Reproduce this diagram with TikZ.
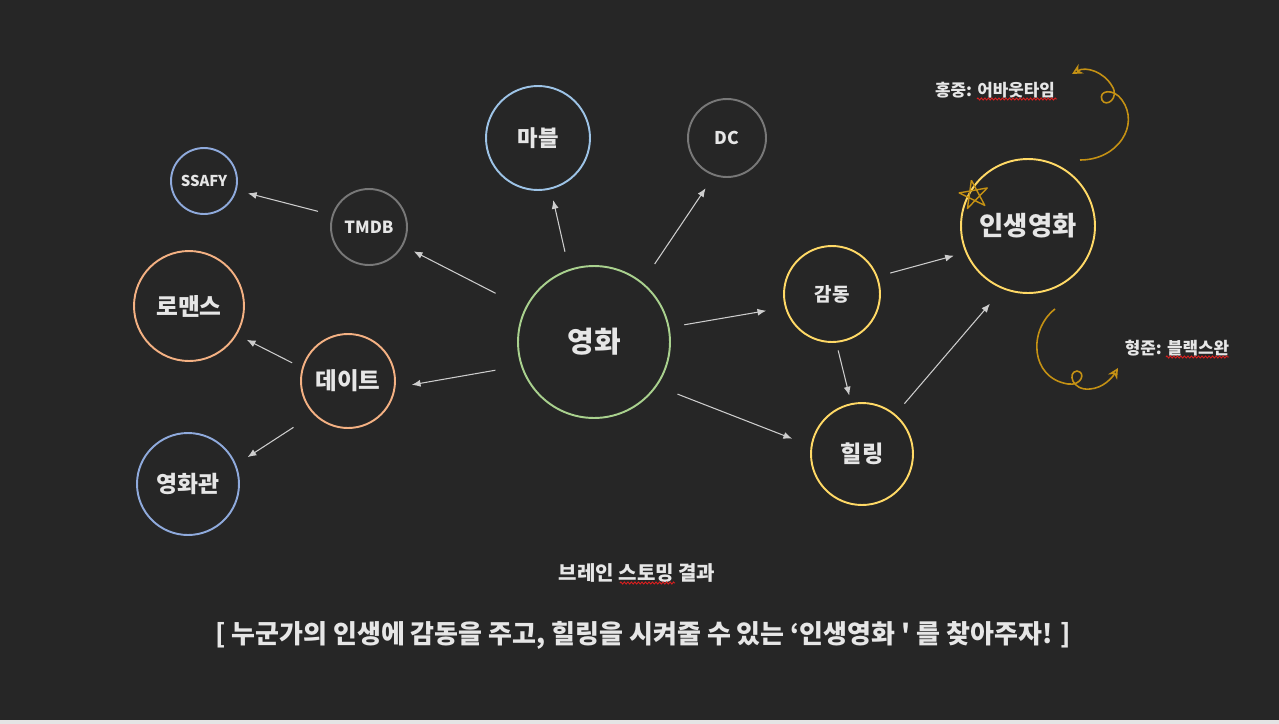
\documentclass[tikz,border=0pt]{standalone}
\usepackage{fontspec}
\setmainfont{Noto Sans CJK KR}
\newfontfamily\plainkr{Noto Sans CJK KR}
\usetikzlibrary{arrows.meta, decorations.pathmorphing}
\definecolor{bgdark}{RGB}{38,38,38}
\definecolor{stripgrey}{RGB}{228,228,228}
\definecolor{labelgrey}{RGB}{230,230,230}
\definecolor{arrowgrey}{RGB}{205,205,205}
\definecolor{moviegreen}{RGB}{169,209,142}
\definecolor{skyblue}{RGB}{157,195,230}
\definecolor{dimgrey}{RGB}{120,120,120}
\definecolor{softblue}{RGB}{143,170,220}
\definecolor{peach}{RGB}{244,177,131}
\definecolor{sunyellow}{RGB}{255,217,102}
\definecolor{swirlgold}{RGB}{196,145,20}
\definecolor{spellred}{RGB}{220,30,30}

\begin{document}
\begin{tikzpicture}[
    x=0.02cm, y=-0.02cm,
    bubble/.style={circle, draw=#1, line width=1.1pt, inner sep=0pt,
                   text=labelgrey, font=\bfseries},
    arr/.style={-{Latex[length=5pt,width=4pt]}, draw=arrowgrey, line width=0.6pt},
    swirl/.style={draw=swirlgold, line width=0.9pt},
    spell/.style={draw=spellred, line width=0.5pt, decorate,
                  decoration={zigzag, segment length=2pt, amplitude=0.6pt}},
    note/.style={text=labelgrey, font=\bfseries\fontsize{9.6}{11}\selectfont}
  ]

  % ============================================================
  %  Background
  % ============================================================
  \fill[bgdark] (0,0) rectangle (1279,724);
  \fill[stripgrey] (0,720) rectangle (1279,724);

  % ============================================================
  %  Bubbles
  % ============================================================
  \node[bubble=moviegreen, minimum size=3.04cm,
        font=\bfseries\fontsize{16.5}{19}\selectfont] (movie) at (594,342) {영화};

  % --- upper branch ---
  \node[bubble=skyblue, minimum size=2.08cm,
        font=\bfseries\fontsize{12.7}{15}\selectfont] (marvel) at (538,138) {마블};
  \node[bubble=dimgrey, minimum size=1.56cm,
        font=\bfseries\fontsize{10}{12}\selectfont] (dc) at (727,138) {DC};
  \node[bubble=dimgrey, minimum size=1.52cm,
        font=\bfseries\fontsize{9.5}{11}\selectfont] (tmdb) at (369,227) {TMDB};
  \node[bubble=softblue, minimum size=1.32cm,
        font=\bfseries\fontsize{8.5}{10}\selectfont] (ssafy) at (204,181) {SSAFY};

  % --- left branch ---
  \node[bubble=peach, minimum size=2.2cm,
        font=\bfseries\fontsize{13.5}{16}\selectfont] (romance) at (189,306) {로맨스};
  \node[bubble=peach, minimum size=1.88cm,
        font=\bfseries\fontsize{13.4}{16}\selectfont] (date) at (348,381) {데이트};
  \node[bubble=softblue, minimum size=2.04cm,
        font=\bfseries\fontsize{13}{15}\selectfont] (theater) at (188,484) {영화관};

  % --- right branch ---
  \node[bubble=sunyellow, minimum size=1.92cm,
        font=\bfseries\fontsize{10.8}{13}\selectfont] (touch) at (832,294) {감동};
  \node[bubble=sunyellow, minimum size=2.04cm,
        font=\bfseries\fontsize{13.2}{15}\selectfont] (healing) at (862,454) {힐링};
  \node[bubble=sunyellow, minimum size=2.68cm,
        font=\bfseries\fontsize{15}{18}\selectfont] (lifemovie) at (1028,226) {인생영화};

  % ============================================================
  %  Arrows (gaps kept off the circles)
  % ============================================================
  \draw[arr, shorten <=18.7pt, shorten >=6.8pt] (movie.154) -- (tmdb.-29);
  \draw[arr, shorten <=8.2pt, shorten >=6.6pt] (tmdb.162) -- (ssafy.-16);
  \draw[arr, shorten <=10.2pt, shorten >=6.2pt] (movie.109) -- (marvel.-76);
  \draw[arr, shorten <=12.5pt, shorten >=8.5pt] (movie.51) -- (dc.-109);
  \draw[arr, shorten <=14.7pt, shorten >=9.4pt] (movie.198) -- (date.-8);
  \draw[arr, shorten <=6.2pt, shorten >=6.2pt] (date.164) -- (romance.-31);
  \draw[arr, shorten <=13.6pt, shorten >=7.7pt] (date.224) -- (theater.22);
  \draw[arr, shorten <=8.5pt, shorten >=10.8pt] (movie.11) -- (touch.196);
  \draw[arr, shorten <=12.5pt, shorten >=11.3pt] (movie.-35) -- (healing.171);
  \draw[arr, shorten <=7.4pt, shorten >=6.8pt] (touch.21) -- (lifemovie.203);
  \draw[arr, shorten <=4.5pt, shorten >=4.5pt] (touch.-85) -- (healing.102);
  \draw[arr, shorten <=7.9pt, shorten >=11pt] (healing.50) -- (lifemovie.-112);

  % ============================================================
  %  Hand-drawn marks around the life movie
  % ============================================================
  % star
  \coordinate (star) at (974,195);
  \draw[swirl, line width=0.8pt, line join=round]
    (star) +(-100:15) \foreach \k in {1,...,5} { -- +(-100+144*\k:15) };

  % top swirl
  \coordinate (swirlA) at (1080,160);
  \coordinate (swirlAend) at (1072,74);
  \draw[swirl, -{Stealth[length=6pt,width=6pt,open]}]
    (swirlA) .. controls (1118,160) and (1140,125) .. (1122,100)
    .. controls (1114,88) and (1098,90) .. (1102,100)
    .. controls (1106,108) and (1120,98) .. (1112,86)
    .. controls (1104,72) and (1086,66) .. (swirlAend);

  % bottom swirl
  \coordinate (swirlB) at (1055,309);
  \coordinate (swirlBend) at (1118,368);
  \draw[swirl, -{Stealth[length=6pt,width=6pt,open]}]
    (swirlB) .. controls (1028,330) and (1030,378) .. (1068,384)
    .. controls (1082,386) and (1086,372) .. (1077,371)
    .. controls (1067,372) and (1072,391) .. (1090,389)
    .. controls (1103,388) and (1112,378) .. (swirlBend);

  % ============================================================
  %  Notes and captions
  % ============================================================
  \node[note] (hongjung) at (995,90) {홍중: 어바웃타임};
  \node[note] (hyungjun) at (1177,348) {형준: 블랙스완};

  \node[text=labelgrey, font=\bfseries\fontsize{11.4}{14}\selectfont]
    (caption) at (637,573) {브레인 스토밍 결과};

  \node[text=labelgrey, font=\bfseries\fontsize{14.8}{18}\selectfont]
    (slogan) at (643,635)
    {[ 누군가의 인생에 감동을 주고, 힐링을 시켜줄 수 있는 ‘인생영화 {\plainkr\bfseries '} 를 찾아주자! ]};

  % spell-check squiggles
  \draw[spell] (977,99) -- (1057,99);
  \draw[spell] (1166,357) -- (1229,357);
  \draw[spell] (620,583) -- (675,583);

\end{tikzpicture}
\end{document}
